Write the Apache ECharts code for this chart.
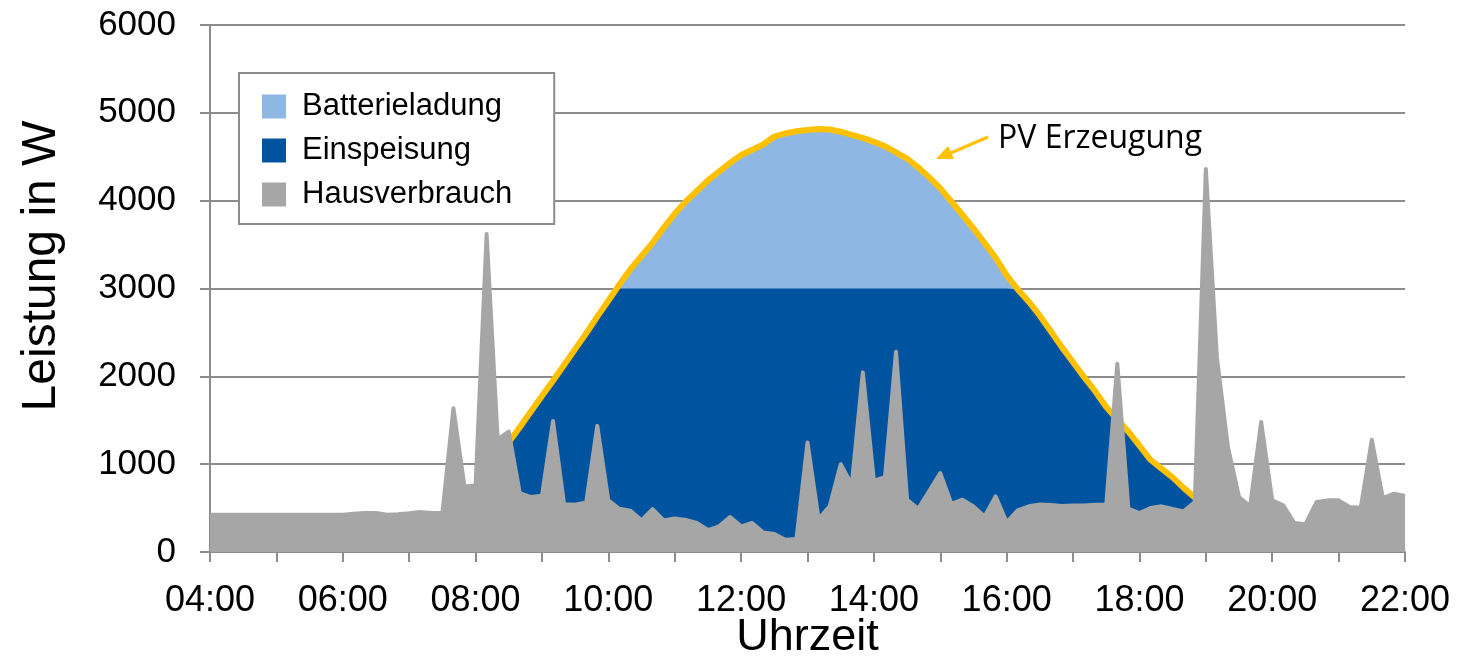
<!DOCTYPE html>
<html>
<head>
<meta charset="utf-8">
<script src="https://cdn.jsdelivr.net/npm/echarts/dist/echarts.min.js"></script>
<style>
  html, body { margin: 0; padding: 0; background: #fff; }
  #chart { width: 1478px; height: 656px; }
</style>
</head>
<body>
<div id="chart"></div>
<script>
// 10-Minuten-Raster 04:00 .. 22:00
const times = []
for (let h = 4; h <= 22; h++) {
  for (let m = 0; m < 60; m += 10) {
    if (h === 22 && m > 0) break
    times.push(String(h).padStart(2, "0") + ":" + String(m).padStart(2, "0"))
  }
}

// PV Erzeugung (W)
const pv = [
  null, null, null, null, null, null, null, null, null, null, null, null,
  null, null, null, null, null, null, null, 60, 130, 210, 310, 490,
  690, 880, 1070, 1250, 1420, 1600, 1775, 1950, 2130, 2310, 2490, 2680,
  2860, 3045, 3220, 3370, 3520, 3690, 3850, 3990, 4110, 4230, 4330, 4430,
  4520, 4580, 4640, 4730, 4765, 4790, 4805, 4817, 4810, 4785, 4750, 4715,
  4670, 4620, 4550, 4480, 4380, 4265, 4140, 3990, 3840, 3684, 3520, 3350,
  3150, 2990, 2850, 2690, 2510, 2330, 2160, 1990, 1830, 1650, 1510, 1370,
  1210, 1050, 950, 850, 730, 620, 500, 380, 270, 170, 90, 30,
  null, null, null, null, null, null, null, null, null, null, null, null, null
]

// Einspeisung (W), begrenzt auf 3000 W
const einspeisung = [
  null, null, null, null, null, null, null, null, null, null, null, null,
  null, null, null, null, null, null, null, 60, 130, 210, 310, 490,
  690, 880, 1070, 1250, 1420, 1600, 1775, 1950, 2130, 2310, 2490, 2680,
  2860, 3000, 3000, 3000, 3000, 3000, 3000, 3000, 3000, 3000, 3000, 3000,
  3000, 3000, 3000, 3000, 3000, 3000, 3000, 3000, 3000, 3000, 3000, 3000,
  3000, 3000, 3000, 3000, 3000, 3000, 3000, 3000, 3000, 3000, 3000, 3000,
  3000, 2990, 2850, 2690, 2510, 2330, 2160, 1990, 1830, 1650, 1510, 1370,
  1210, 1050, 950, 850, 730, 620, 500, 380, 270, 170, 90, 30,
  null, null, null, null, null, null, null, null, null, null, null, null, null
]

// Hausverbrauch (W)
const haus = [
  424, 424, 424, 424, 424, 424, 424, 424, 424, 424, 424, 424,
  424, 435, 443, 443, 424, 430, 440, 455, 443, 443, 1636, 746,
  757, 3620, 1284, 1371, 670, 625, 640, 1492, 545, 538, 564, 1436,
  587, 492, 470, 360, 489, 360, 383, 364, 330, 250, 292, 398,
  292, 330, 223, 205, 140, 148, 1246, 375, 519, 1000, 765, 2045,
  811, 852, 2280, 595, 492, 695, 898, 549, 595, 519, 405, 633,
  337, 473, 520, 542, 535, 523, 530, 530, 538, 540, 2143, 493,
  444, 500, 520, 490, 463, 569, 4361, 2218, 1194, 626, 520, 1479,
  588, 531, 330, 315, 569, 588, 588, 512, 504, 1278, 614, 664, 637
]

const legendNames = ["Batterieladung", "Einspeisung", "Hausverbrauch"]

const FONT = "Liberation Sans, Arial, sans-serif"
const GRID_GRAY = "#8c8c8c"
const LIGHT_BLUE = "#8eb8e3"
const DARK_BLUE = "#00549f"
const GRAY = "#a6a6a6"
const YELLOW = "#ffc000"

const chart = echarts.init(document.getElementById("chart"))

const option = {
  animation: false,
  backgroundColor: "#fff",
  grid: { left: 210, right: 73, top: 25, bottom: 104, containLabel: false, outerBoundsMode: "none" },
  legend: {
    data: legendNames,
    orient: "vertical",
    left: 239,
    top: 73,
    icon: "rect",
    itemWidth: 24,
    itemHeight: 24,
    itemGap: 13,
    padding: [18, 42, 14, 23],
    backgroundColor: "#fff",
    borderColor: GRID_GRAY,
    borderWidth: 2,
    borderRadius: 0,
    itemStyle: { borderWidth: 0 },
    textStyle: {
      fontFamily: FONT,
      fontSize: 31,
      color: "#000",
      lineHeight: 31,
      padding: [0, 0, 0, 11]
    }
  },
  xAxis: {
    type: "category",
    data: times,
    boundaryGap: false,
    name: "Uhrzeit",
    nameLocation: "middle",
    nameGap: 63,
    nameMoveOverlap: false,
    nameTextStyle: { fontFamily: FONT, fontSize: 45, color: "#000" },
    axisLine: { lineStyle: { color: GRID_GRAY, width: 2 } },
    axisTick: {
      show: true,
      length: 10,
      interval: (i) => i % 6 === 0,
      lineStyle: { color: GRID_GRAY, width: 2 }
    },
    axisLabel: {
      interval: (i) => i % 12 === 0,
      fontFamily: FONT,
      fontSize: 36,
      color: "#000",
      margin: 31
    },
    splitLine: { show: false }
  },
  yAxis: {
    type: "value",
    min: 0,
    max: 6000,
    interval: 1000,
    axisLine: { show: true, lineStyle: { color: GRID_GRAY, width: 2 } },
    axisTick: { show: true, length: 10, lineStyle: { color: GRID_GRAY, width: 2 } },
    axisLabel: {
      fontFamily: FONT,
      fontSize: 35,
      color: "#000",
      margin: 34,
      formatter: (v) => String(v)
    },
    splitLine: { lineStyle: { color: GRID_GRAY, width: 2 } }
  },
  graphic: [
    {
      type: "text",
      x: 42,
      y: 266,
      rotation: Math.PI / 2,
      style: {
        text: "Leistung in W",
        fontFamily: FONT,
        fontSize: 48,
        fill: "#000",
        textAlign: "center",
        textVerticalAlign: "middle"
      }
    },
    {
      type: "text",
      x: 998,
      y: 139,
      style: {
        text: "PV Erzeugung",
        fontFamily: "Open Sans, Noto Sans, sans-serif",
        fontSize: 32,
        fill: "#000",
        textAlign: "left",
        textVerticalAlign: "middle"
      }
    },
    {
      type: "line",
      shape: { x1: 988, y1: 137, x2: 946, y2: 155 },
      style: { stroke: YELLOW, lineWidth: 3 }
    },
    {
      type: "polygon",
      shape: { points: [[936, 159], [948, 146], [954, 159]] },
      style: { fill: YELLOW }
    }
  ],
  series: [
    {
      name: "Batterieladung",
      type: "line",
      z: 2,
      data: pv,
      showSymbol: false,
      itemStyle: { color: LIGHT_BLUE },
      lineStyle: { width: 0 },
      areaStyle: { color: LIGHT_BLUE, opacity: 1 }
    },
    {
      name: "Einspeisung",
      type: "line",
      z: 3,
      data: einspeisung,
      showSymbol: false,
      itemStyle: { color: DARK_BLUE },
      lineStyle: { width: 0 },
      areaStyle: { color: DARK_BLUE, opacity: 1 }
    },
    {
      name: "PV Erzeugung",
      type: "line",
      z: 4,
      data: pv,
      showSymbol: false,
      itemStyle: { color: YELLOW },
      lineStyle: { color: YELLOW, width: 6, join: "round" }
    },
    {
      name: "Hausverbrauch",
      type: "line",
      z: 5,
      data: haus,
      showSymbol: false,
      itemStyle: { color: GRAY },
      lineStyle: { color: GRAY, width: 4, join: "round" },
      areaStyle: { color: GRAY, opacity: 1 }
    }
  ]
}

chart.setOption(option)
</script>
</body>
</html>
